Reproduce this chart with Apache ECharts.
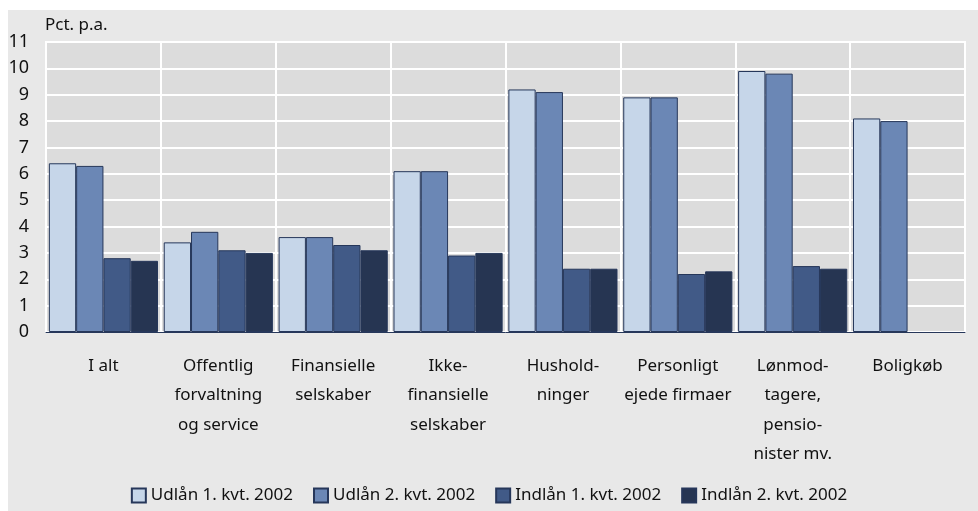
<!DOCTYPE html>
<html>
<head>
<meta charset="utf-8">
<script src="https://cdn.jsdelivr.net/npm/echarts@6/dist/echarts.min.js"></script>
<style>
  html, body { margin: 0; padding: 0; background: #ffffff; }
  #chart { width: 978px; height: 511px; }
</style>
</head>
<body>
<div id="chart"></div>
<script>
  // kategorier og serier
  const categories = [
    'I alt',
    'Offentlig\nforvaltning\nog service',
    'Finansielle\nselskaber',
    'Ikke-\nfinansielle\nselskaber',
    'Hushold-\nninger',
    'Personligt\nejede firmaer',
    'Lønmod-\ntagere,\npensio-\nnister mv.',
    'Boligkøb'
  ]
  const seriesNames = ['Udlån 1. kvt. 2002', 'Udlån 2. kvt. 2002', 'Indlån 1. kvt. 2002', 'Indlån 2. kvt. 2002']
  const udlaan1 = [6.4, 3.4, 3.6, 6.1, 9.2, 8.9, 9.9, 8.1]
  const udlaan2 = [6.3, 3.8, 3.6, 6.1, 9.1, 8.9, 9.8, 8.0]
  const indlaan1 = [2.8, 3.1, 3.3, 2.9, 2.4, 2.2, 2.5, null]
  const indlaan2 = [2.7, 3.0, 3.1, 3.0, 2.4, 2.3, 2.4, null]
  const colors = ['#c6d6e9', '#6b87b5', '#415a87', '#263552']

  const font = 'Noto Sans'
  const chart = echarts.init(document.getElementById('chart'))

  const seriesData = [udlaan1, udlaan2, indlaan1, indlaan2]
  const series = seriesData.map((d, i) => ({
    name: seriesNames[i],
    type: 'bar',
    data: d,
    barGap: '0%',
    barCategoryGap: '5%',
    itemStyle: { color: colors[i], borderColor: '#26375a', borderWidth: 1 }
  }))

  chart.setOption({
    backgroundColor: '#ffffff',
    animation: false,
    graphic: [{
      type: 'rect',
      z: -10,
      shape: { x: 8, y: 10, width: 970, height: 501 },
      style: { fill: '#e8e8e8' }
    }, {
      type: 'text',
      left: 45,
      top: 17,
      style: { text: 'Pct. p.a.', font: '17px "Noto Sans"', fill: '#111' }
    }],
    grid: {
      left: 46, right: 13, top: 42, bottom: 179,
      show: true, backgroundColor: '#dcdcdc', borderColor: '#ffffff', borderWidth: 2
    },
    legend: {
      top: 482,
      left: 'center',
      itemWidth: 14,
      itemHeight: 14,
      itemGap: 20,
      icon: 'rect',
      textStyle: { fontFamily: font, fontSize: 17, color: '#111' },
      data: seriesNames
    },
    xAxis: {
      type: 'category',
      data: categories,
      axisTick: { show: false },
      axisLine: { show: true, lineStyle: { color: '#26375a', width: 1 } },
      splitLine: { show: true, lineStyle: { color: '#ffffff', width: 2 } },
      axisLabel: {
        interval: 0, margin: 19, fontFamily: font, fontSize: 17, color: '#111',
        lineHeight: 29.5, verticalAlign: 'top'
      }
    },
    yAxis: {
      type: 'value',
      min: 0, max: 11, interval: 1,
      axisLine: { show: false },
      axisTick: { show: false },
      splitLine: { lineStyle: { color: '#ffffff', width: 2 } },
      axisLabel: { margin: 17, fontFamily: font, fontSize: 18, color: '#111' }
    },
    series: series
  })
</script>
</body>
</html>
